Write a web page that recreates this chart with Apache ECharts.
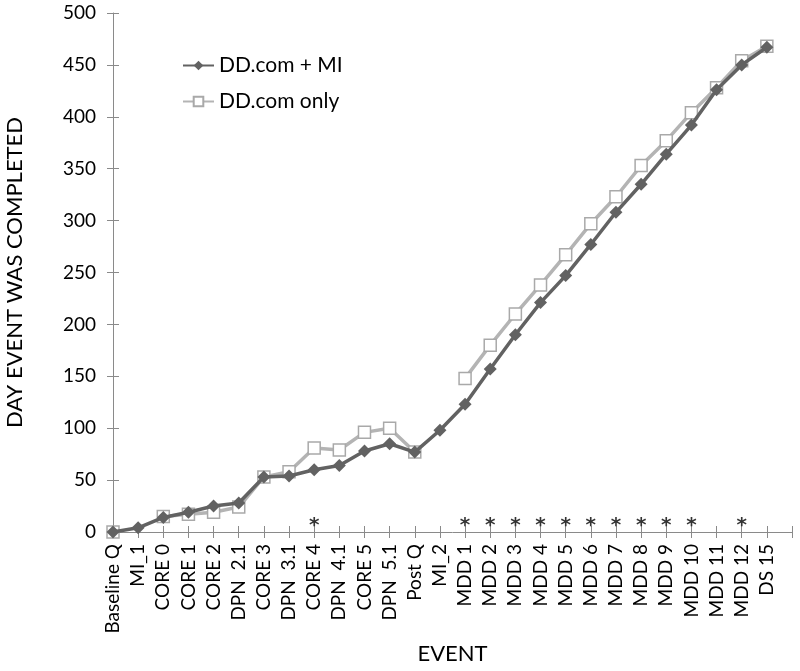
<!DOCTYPE html>
<html>
<head>
<meta charset="utf-8">
<script src="https://cdn.jsdelivr.net/npm/echarts@6/dist/echarts.min.js"></script>
<style>
html,body{margin:0;padding:0;background:#fff;}
#chart{width:800px;height:671px;}
</style>
</head>
<body>
<div id="chart"></div>
<script>
var categories = ['Baseline Q','MI_1','CORE 0','CORE 1','CORE 2','DPN  2.1','CORE 3','DPN  3.1','CORE 4','DPN  4.1','CORE 5','DPN  5.1','Post Q','MI_2','MDD 1','MDD 2','MDD 3','MDD 4','MDD 5','MDD 6','MDD 7','MDD 8','MDD 9','MDD 10','MDD 11','MDD 12','DS 15',''];
var ddMI = [0,4,14,19,25,28,53,54,60,64,78,85,77,98,123,157,190,221,247,277,308,335,364,392,426,450,467,null];
var ddOnly = [0,null,15,17,19,24,53,58,81,79,96,100,77,null,148,180,210,238,267,297,323,353,377,404,428,454,468,null];
var sigCategories = ['CORE 4','MDD 1','MDD 2','MDD 3','MDD 4','MDD 5','MDD 6','MDD 7','MDD 8','MDD 9','MDD 10','MDD 12'];
var yTicks = {min:0, max:500, interval:50};

var FONT = 'Lato, "Open Sans", sans-serif';
var AXIS_COLOR = '#8a8a8a';
var chart = echarts.init(document.getElementById('chart'));
var sigData = sigCategories.map(function(c){ return [c, 0]; });

chart.setOption({
  animation: false,
  backgroundColor: '#fff',
  textStyle: {fontFamily: FONT},
  grid: {left:113, right:8, top:13, bottom:139, outerBoundsMode:'none'},
  legend: {
    data: ['DD.com + MI','DD.com only'],
    orient: 'vertical', left: 177, top: 50, itemWidth: 31, itemHeight: 12, itemGap: 15,
    textStyle: {fontSize: 21, color: '#000', fontFamily: FONT}
  },
  xAxis: [{
    type: 'category', data: categories, boundaryGap: false, position: 'bottom',
    name: 'EVENT', nameLocation: 'middle', nameGap: 111,
    nameTextStyle: {fontSize: 22, color: '#000', fontFamily: FONT},
    axisLine: {lineStyle: {color: AXIS_COLOR, width: 1}},
    axisTick: {show: true, alignWithLabel: true, length: 6, inside: false, lineStyle: {color: AXIS_COLOR}, interval: 0},
    axisLabel: {rotate: 90, interval: 0, fontSize: 19, color: '#000', margin: 12, fontFamily: FONT},
    splitLine: {show: false}
  },{
    type: 'category', data: categories, boundaryGap: false, position: 'bottom', offset: 0,
    axisLine: {show: false},
    axisTick: {show: true, length: 6, inside: true, lineStyle: {color: AXIS_COLOR}, interval: 0},
    axisLabel: {show: false}, splitLine: {show: false}
  }],
  yAxis: [{
    type: 'value', min: yTicks.min, max: yTicks.max, interval: yTicks.interval, position: 'left',
    name: 'DAY EVENT WAS COMPLETED', nameLocation: 'middle', nameGap: 87, nameRotate: 90,
    nameTextStyle: {fontSize: 22, color: '#000', fontFamily: FONT},
    axisLine: {show: true, lineStyle: {color: AXIS_COLOR, width: 1}},
    axisTick: {show: true, length: 6, inside: false, lineStyle: {color: AXIS_COLOR}},
    axisLabel: {fontSize: 19, color: '#000', margin: 17, fontFamily: FONT},
    splitLine: {show: false}
  },{
    type: 'value', min: yTicks.min, max: yTicks.max, interval: yTicks.interval, position: 'left', offset: 0,
    axisLine: {show: false},
    axisTick: {show: true, length: 6, inside: true, lineStyle: {color: AXIS_COLOR}},
    axisLabel: {show: false}, splitLine: {show: false}
  }],
  series: [{
    name: 'DD.com + MI', type: 'line', data: ddMI, z: 3,
    symbol: 'diamond', symbolSize: 13, connectNulls: false,
    lineStyle: {color: '#626262', width: 3.5},
    itemStyle: {color: '#626262'}
  },{
    name: 'DD.com only', type: 'line', data: ddOnly, z: 2,
    symbol: 'rect', symbolSize: 12, connectNulls: false,
    lineStyle: {color: '#b4b4b4', width: 3.5},
    itemStyle: {color: '#ffffff', borderColor: '#a9a9a9', borderWidth: 1.5}
  },{
    name: 'sig', type: 'scatter', data: sigData, symbolSize: 0, z: 4,
    label: {show: true, formatter: '*', position: 'inside', offset: [0, -6], fontSize: 20, fontWeight: 'bold', color: '#000', fontFamily: '"DejaVu Sans", sans-serif'}
  }]
});
</script>
</body>
</html>
